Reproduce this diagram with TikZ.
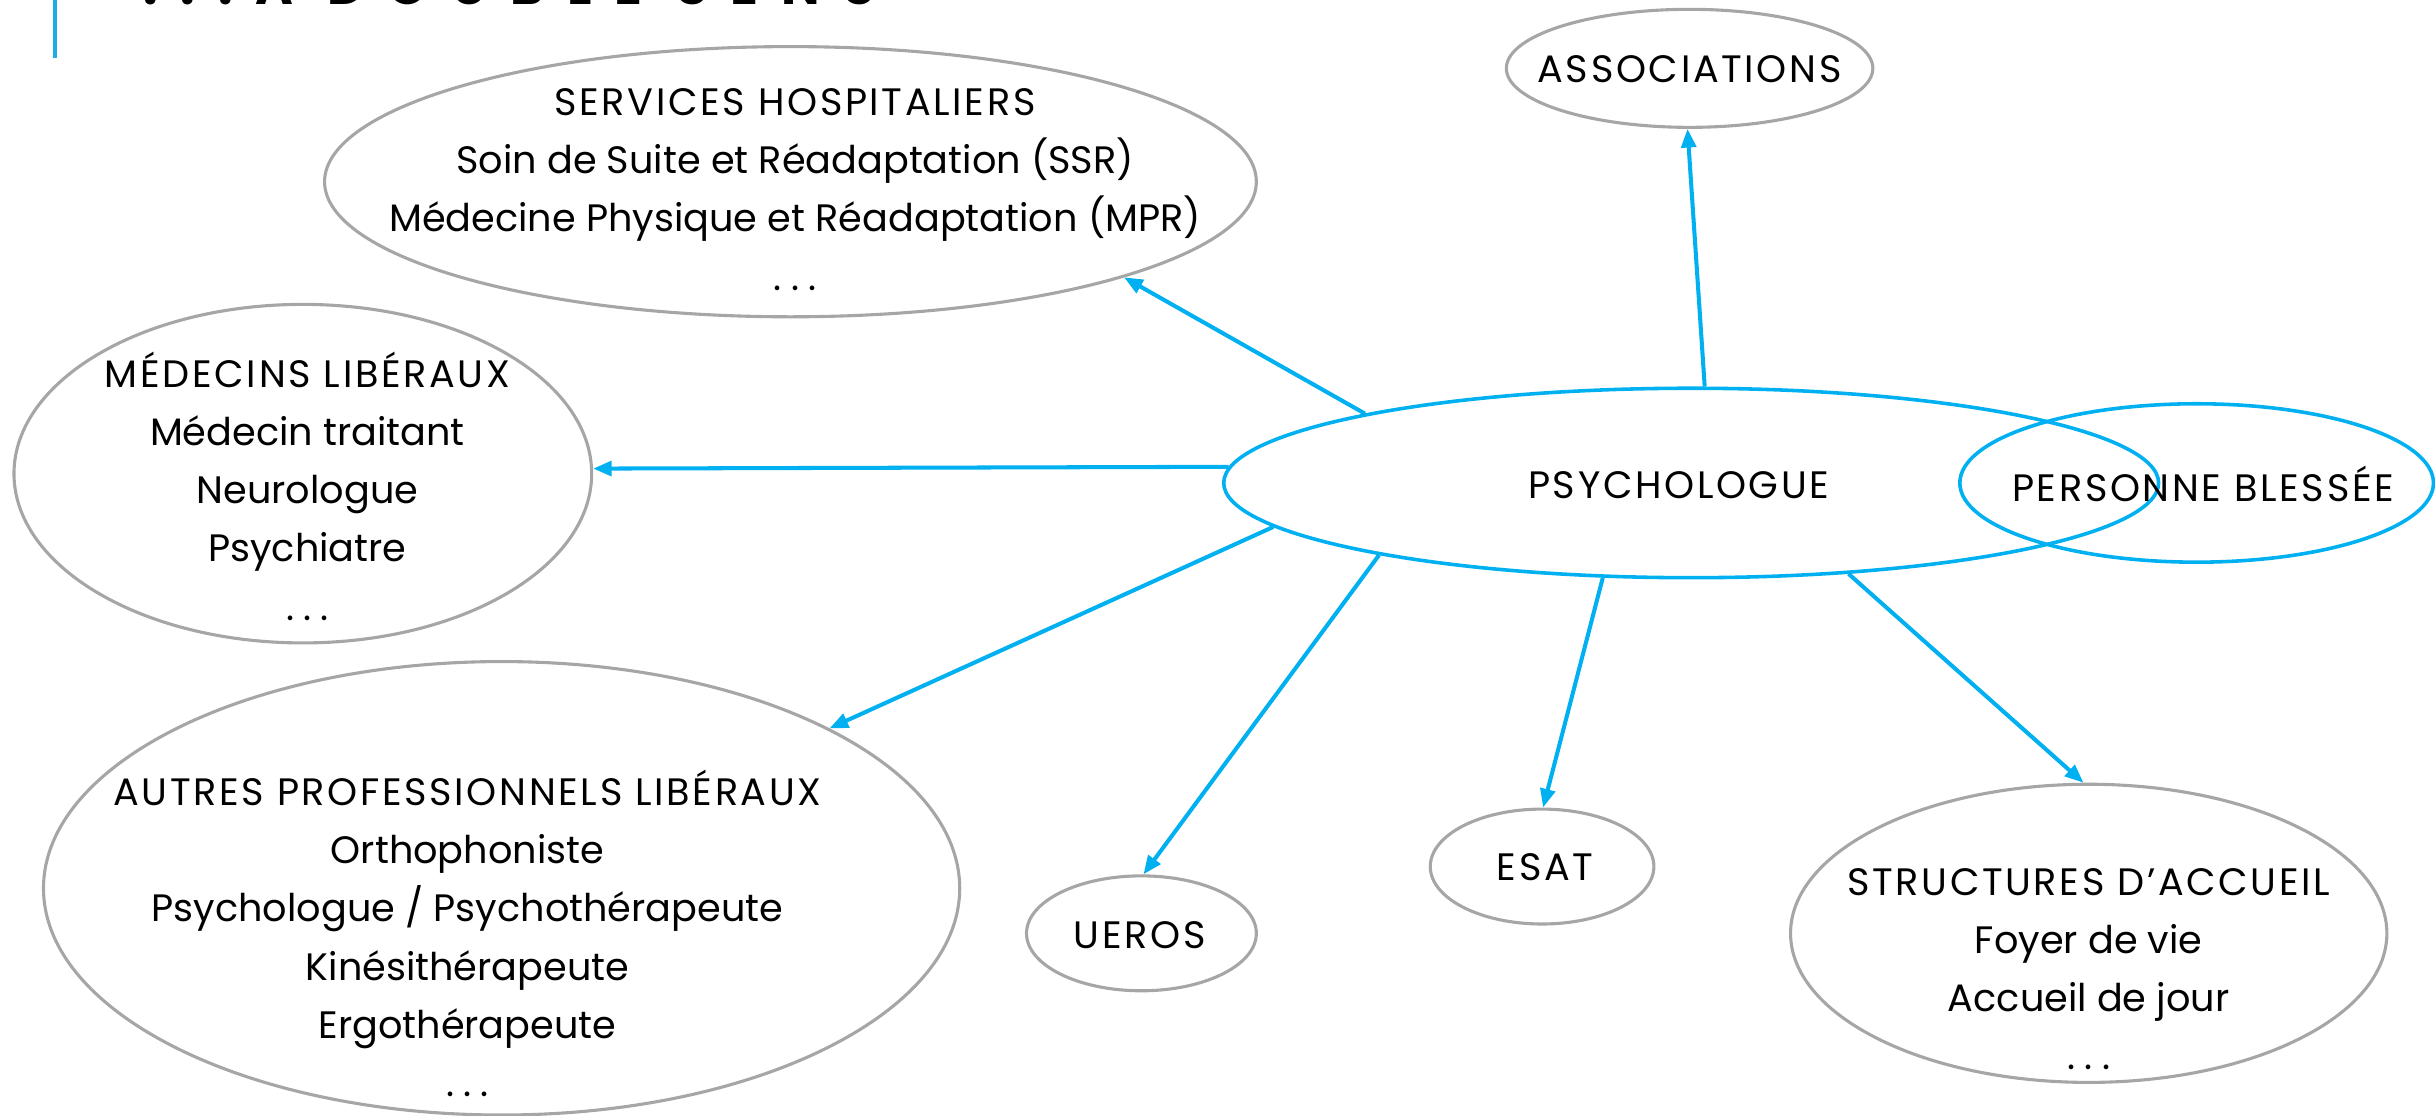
\documentclass[tikz,border=0pt]{standalone}
\usepackage{fontspec}
\setmainfont{Poppins}
\usetikzlibrary{shapes.geometric, arrows.meta}
\definecolor{arrowblue}{HTML}{00B0F0}
\definecolor{barblue}{HTML}{1CADE4}
\definecolor{ringgray}{HTML}{A6A6A6}
\newcommand\capsln[1]{{\addfontfeature{LetterSpace=7}#1}}
\newcommand\moredots{.\kern6pt.\kern6pt.}
\begin{document}
\begin{tikzpicture}[x=1pt,y=-1pt,
  grayell/.style={ellipse, draw=ringgray, line width=2pt, inner sep=0pt},
  blueell/.style={ellipse, draw=arrowblue, line width=2.3pt, inner sep=0pt},
  lbl/.style={align=center, font=\fontsize{24.6}{37.5}\selectfont, inner sep=0pt},
  link/.style={draw=arrowblue, line width=2.6pt, -{Triangle[length=12pt,width=9.5pt]}}
]
\useasboundingbox (0,0) rectangle (1568,718);
\fill[barblue] (34.2,0) rectangle (36.8,37.6);
\node[anchor=base west, inner sep=0pt, font=\fontsize{33}{33}\selectfont\bfseries\addfontfeature{LetterSpace=45}] (title) at (92,3) {...À DOUBLE SENS};

\node[grayell, minimum width=600pt, minimum height=174pt] (serv) at (509,117) {};
\node[grayell, minimum width=236pt, minimum height=76pt] (assoc) at (1088,44) {};
\node[grayell, minimum width=372pt, minimum height=218pt] (med) at (195,305) {};
\node[grayell, minimum width=590pt, minimum height=292pt] (autres) at (323,572) {};
\node[grayell, minimum width=148pt, minimum height=74pt] (ueros) at (735,601) {};
\node[grayell, minimum width=144pt, minimum height=74pt] (esat) at (993,558) {};
\node[grayell, minimum width=384pt, minimum height=192pt] (struct) at (1345,601) {};
\node[blueell, minimum width=602pt, minimum height=122pt] (psy) at (1089,311) {};
\node[blueell, minimum width=305pt, minimum height=102pt] (pers) at (1414.5,311) {};

\node[lbl] (servt) at (512,122) {\capsln{SERVICES HOSPITALIERS}\\Soin de Suite et Réadaptation (SSR)\\Médecine Physique et Réadaptation (MPR)\\\moredots};
\node[lbl, anchor=base] (assoct) at (1088,53) {\capsln{ASSOCIATIONS}};
\node[lbl] (medt) at (198,313) {\capsln{MÉDECINS LIBÉRAUX}\\Médecin traitant\\Neurologue\\Psychiatre\\\moredots};
\node[lbl] (autrest) at (301,601) {\capsln{AUTRES PROFESSIONNELS LIBÉRAUX}\\Orthophoniste\\Psychologue / Psychothérapeute\\Kinésithérapeute\\Ergothérapeute\\\moredots};
\node[lbl, anchor=base] (psyt) at (1081,321) {\capsln{PSYCHOLOGUE}};
\node[lbl, anchor=base] (perst) at (1418.6,323) {\capsln{PERSONNE BLESSÉE}};
\node[lbl, anchor=base] (uerost) at (734,611) {\capsln{UEROS}};
\node[lbl, anchor=base] (esatt) at (995,567) {\capsln{ESAT}};
\node[lbl] (structt) at (1345,624) {\capsln{STRUCTURES D’ACCUEIL}\\Foyer de vie\\Accueil de jour\\\moredots};

\draw[link] (psy.168.6) -- (serv.-16.5);
\draw[link] (psy.82.5) -- (assoc.-92);
\draw[link] (psy.178.3) -- (med.1.2);
\draw[link] (psy.186.7) -- (autres.26.2);
\draw[link] (psy.193.9) -- (ueros.88);
\draw[link] (psy.227.5) -- (esat.89);
\draw[link] (psy.-30.9) -- (struct.92);
\end{tikzpicture}
\end{document}
